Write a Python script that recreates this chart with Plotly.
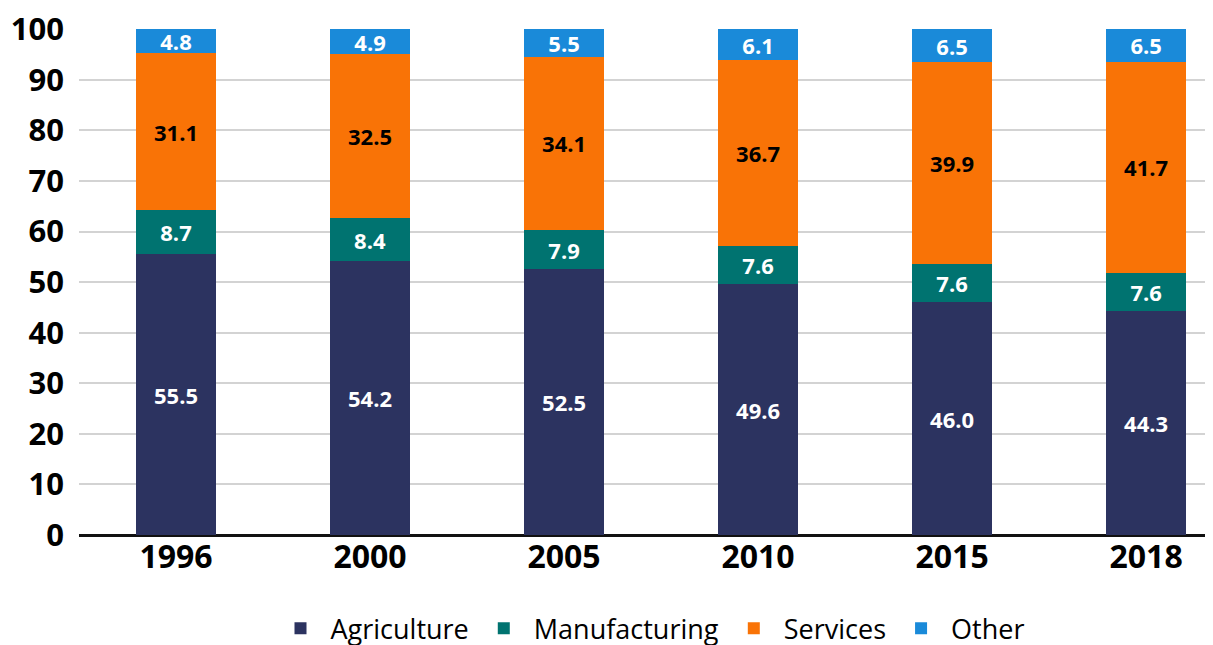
import plotly.graph_objects as go

years = ["1996", "2000", "2005", "2010", "2015", "2018"]
agriculture = [55.5, 54.2, 52.5, 49.6, 46.0, 44.3]
manufacturing = [8.7, 8.4, 7.9, 7.6, 7.6, 7.6]
services = [31.1, 32.5, 34.1, 36.7, 39.9, 41.7]
other = [4.8, 4.9, 5.5, 6.1, 6.5, 6.5]

series = [
    ("Agriculture", agriculture, "#2c3360", "white"),
    ("Manufacturing", manufacturing, "#007370", "white"),
    ("Services", services, "#f97306", "black"),
    ("Other", other, "#1a8ad9", "white"),
]

fig = go.Figure()
for name, vals, color, txtcolor in series:
    fig.add_trace(
        go.Bar(
            x = years,
            y = vals,
            name = name,
            marker_color = color,
            marker_line_width = 0,
            width = 0.41,
            texttemplate = "%{y:.1f}",
            textposition = "inside",
            insidetextanchor = "middle",
            textangle = 0,
            textfont = dict(color = txtcolor, size = 22, family = "Open Sans", weight = "bold"),
        )
    )

# the page adds an 8px body margin, so the margins here are 8px smaller
fig.update_layout(
    barmode = "stack",
    width = 1213, height = 645,
    margin = dict(l = 71, r = 0, t = 21, b = 118, autoexpand = False),
    plot_bgcolor = "white",
    paper_bgcolor = "white",
    font = dict(family = "Open Sans", color = "black"),
    uniformtext = dict(minsize = 22, mode = "show"),
    showlegend = True,
    legend = dict(
        orientation = "h",
        x = 0.5, xanchor = "center",
        y = -0.185, yanchor = "middle",
        font = dict(size = 27, family = "Open Sans"),
        itemwidth = 50,
        traceorder = "normal",
    ),
)

fig.update_xaxes(
    type = "category",
    range = [-0.5, 5.386],
    showgrid = False,
    showline = False,
    ticks = "",
    tickfont = dict(size = 32, family = "Open Sans", weight = "bold"),
)

fig.update_yaxes(
    range = [0, 100.05],
    tickvals = [0, 10, 20, 30, 40, 50, 60, 70, 80, 90, 100],
    ticklabeloverflow = "allow",
    ticklabelstandoff = 14,
    showgrid = True,
    gridcolor = "#d3d3d3",
    gridwidth = 2,
    zeroline = True,
    zerolinecolor = "#111111",
    zerolinewidth = 3,
    ticks = "",
    tickfont = dict(size = 31, family = "Open Sans", weight = "bold"),
)

fig.write_html("out.html")
